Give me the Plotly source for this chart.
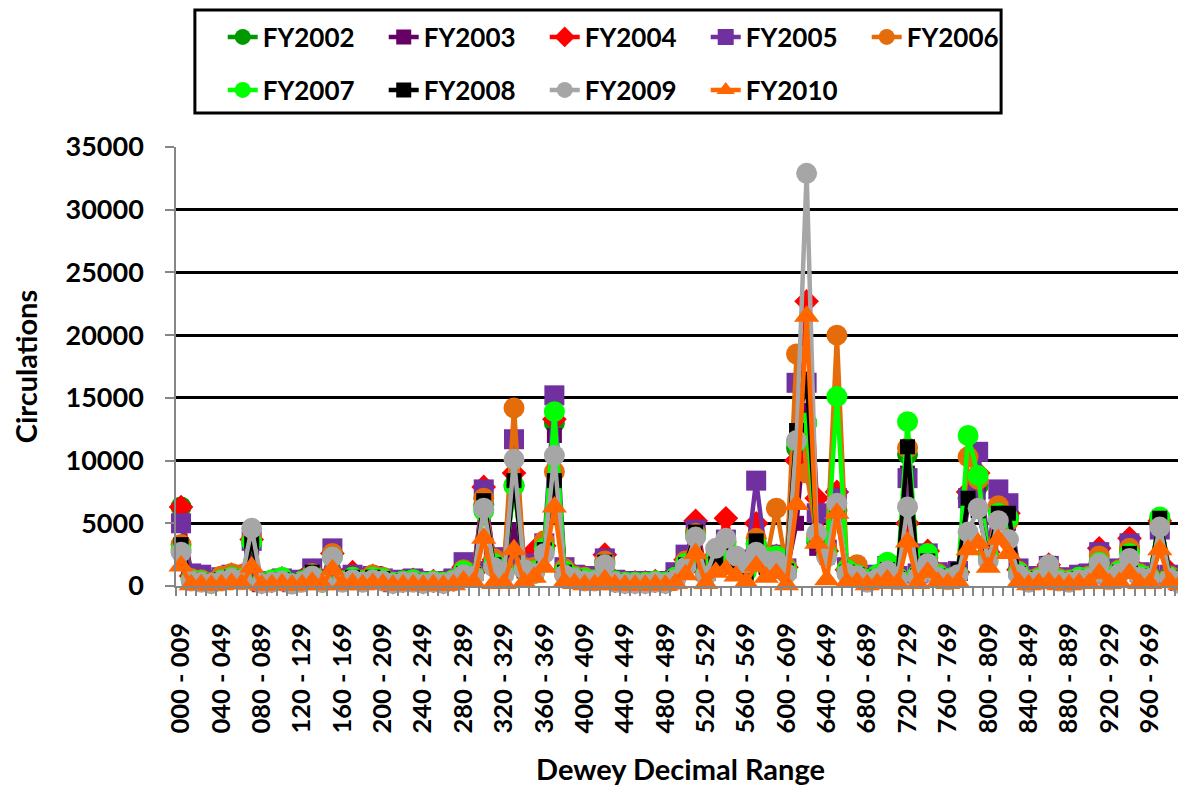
import plotly.graph_objects as go

categories = [
    "000 - 009", "010 - 019", "020 - 029", "030 - 039", "040 - 049", "050 - 059", "060 - 069", "070 - 079", "080 - 089", "090 - 099",
    "100 - 109", "110 - 119", "120 - 129", "130 - 139", "140 - 149", "150 - 159", "160 - 169", "170 - 179", "180 - 189", "190 - 199",
    "200 - 209", "210 - 219", "220 - 229", "230 - 239", "240 - 249", "250 - 259", "260 - 269", "270 - 279", "280 - 289", "290 - 299",
    "300 - 309", "310 - 319", "320 - 329", "330 - 339", "340 - 349", "350 - 359", "360 - 369", "370 - 379", "380 - 389", "390 - 399",
    "400 - 409", "410 - 419", "420 - 429", "430 - 439", "440 - 449", "450 - 459", "460 - 469", "470 - 479", "480 - 489", "490 - 499",
    "500 - 509", "510 - 519", "520 - 529", "530 - 539", "540 - 549", "550 - 559", "560 - 569", "570 - 579", "580 - 589", "590 - 599",
    "600 - 609", "610 - 619", "620 - 629", "630 - 639", "640 - 649", "650 - 659", "660 - 669", "670 - 679", "680 - 689", "690 - 699",
    "700 - 709", "710 - 719", "720 - 729", "730 - 739", "740 - 749", "750 - 759", "760 - 769", "770 - 779", "780 - 789", "790 - 799",
    "800 - 809", "810 - 819", "820 - 829", "830 - 839", "840 - 849", "850 - 859", "860 - 869", "870 - 879", "880 - 889", "890 - 899",
    "900 - 909", "910 - 919", "920 - 929", "930 - 939", "940 - 949", "950 - 959", "960 - 969", "970 - 979", "980 - 989", "990 - 999",
]

fy2002 = [6300, 900, 700, 300, 600, 800, 700, 3500, 300, 400,
          600, 300, 500, 1100, 400, 2500, 400, 900, 500, 800,
          600, 300, 400, 500, 300, 400, 300, 500, 1400, 1000,
          6500, 2000, 1200, 8000, 1500, 1000, 3000, 13000, 1300, 700,
          600, 500, 1900, 400, 300, 300, 300, 400, 300, 700,
          2000, 4300, 1000, 2200, 3500, 1800, 1200, 3400, 1600, 2200,
          1200, 11000, 13000, 3500, 2500, 6000, 1200, 1000, 400, 700,
          1400, 600, 10500, 800, 2200, 900, 600, 1000, 7000, 8000,
          2500, 6000, 5500, 1200, 400, 600, 1500, 500, 400, 700,
          800, 2000, 700, 1200, 2900, 900, 700, 5400, 800, 300]
fy2003 = [3000, 700, 600, 300, 500, 700, 600, 3000, 300, 400,
          500, 200, 400, 1000, 400, 2400, 400, 800, 400, 700,
          600, 300, 400, 500, 300, 400, 300, 500, 1300, 900,
          7000, 1800, 1100, 4500, 1400, 900, 2800, 12000, 1200, 700,
          600, 500, 1800, 400, 300, 300, 300, 400, 300, 700,
          1900, 4000, 900, 2100, 3300, 1700, 1100, 3200, 1500, 2000,
          1100, 5000, 14000, 3000, 2300, 5500, 1100, 900, 400, 700,
          1300, 600, 9000, 700, 2000, 800, 600, 900, 6500, 7500,
          2300, 5500, 5000, 1100, 400, 600, 1400, 500, 400, 700,
          700, 1900, 600, 1100, 2700, 800, 700, 5000, 700, 300]
fy2004 = [6300, 800, 700, 300, 600, 900, 800, 3700, 300, 400,
          600, 300, 500, 1200, 400, 2600, 500, 1100, 500, 800,
          600, 300, 400, 500, 300, 400, 300, 500, 1500, 1100,
          7900, 2100, 1300, 9000, 1600, 2800, 3200, 13300, 1300, 800,
          700, 600, 2500, 400, 300, 300, 300, 400, 300, 700,
          2100, 5200, 1100, 2400, 5400, 2000, 1300, 5000, 1800, 2400,
          1500, 10000, 22700, 7000, 2800, 7500, 1300, 1100, 500, 800,
          1500, 700, 5000, 900, 2800, 1000, 700, 1100, 7500, 9000,
          2700, 6300, 5800, 1300, 500, 700, 1700, 600, 500, 800,
          900, 3000, 800, 1300, 3800, 1000, 800, 5200, 1100, 400]
fy2005 = [5000, 1000, 900, 400, 700, 900, 800, 3600, 300, 400,
          600, 300, 500, 1400, 500, 3000, 500, 900, 500, 800,
          600, 300, 500, 600, 400, 400, 400, 600, 1900, 1200,
          7700, 2300, 1500, 11700, 1800, 1800, 3400, 15200, 1500, 900,
          800, 600, 2200, 500, 300, 400, 300, 400, 400, 1100,
          2500, 4500, 1200, 2500, 3700, 2100, 1600, 8400, 2000, 2500,
          1400, 16200, 16200, 5800, 2900, 7000, 1500, 1200, 600, 900,
          1600, 800, 8600, 1000, 2600, 1100, 800, 1200, 7000, 10700,
          3000, 7700, 6600, 1400, 600, 800, 1600, 700, 600, 900,
          1000, 2700, 900, 1400, 3400, 1100, 900, 4500, 900, 400]
fy2006 = [3300, 600, 500, 300, 800, 1000, 900, 3700, 300, 400,
          500, 200, 400, 1000, 400, 2600, 400, 700, 500, 900,
          700, 300, 400, 500, 300, 400, 300, 500, 1300, 1000,
          7000, 2200, 1400, 14200, 1500, 1500, 3600, 9100, 1400, 800,
          700, 500, 2000, 400, 300, 300, 300, 400, 300, 700,
          2000, 4200, 1000, 2400, 3600, 1900, 1300, 3800, 2000, 6200,
          1500, 18500, 9000, 4000, 3000, 20000, 1400, 1700, 500, 800,
          1500, 700, 11000, 900, 2300, 1000, 600, 1000, 10300, 8500,
          2600, 6400, 5200, 1200, 500, 700, 1500, 600, 500, 700,
          800, 2400, 800, 1300, 3000, 1000, 800, 5000, 800, 300]
fy2007 = [2900, 500, 400, 200, 500, 700, 600, 3500, 300, 500,
          700, 200, 400, 900, 300, 2300, 400, 700, 400, 700,
          600, 300, 400, 500, 300, 400, 300, 500, 1200, 900,
          6000, 1800, 1100, 8000, 1300, 1200, 3000, 13900, 1200, 700,
          600, 500, 1700, 400, 300, 300, 300, 400, 300, 700,
          1800, 4000, 900, 2200, 3300, 1800, 1100, 3300, 2300, 2400,
          1300, 11500, 13000, 3800, 2500, 15100, 1300, 900, 500, 900,
          1900, 700, 13100, 900, 2600, 900, 600, 1000, 12000, 8800,
          2400, 5800, 5400, 1100, 400, 600, 1400, 500, 400, 700,
          700, 1900, 700, 1200, 2600, 900, 700, 5500, 700, 300]
fy2008 = [3300, 500, 400, 200, 500, 700, 600, 3500, 300, 400,
          500, 200, 400, 1100, 300, 2300, 400, 700, 400, 700,
          600, 300, 400, 400, 300, 300, 300, 400, 1000, 900,
          6800, 1700, 1000, 8400, 1200, 1100, 2900, 8400, 1100, 700,
          500, 400, 1900, 400, 300, 300, 300, 300, 300, 600,
          1700, 4300, 900, 2000, 3500, 1700, 1000, 3600, 1500, 1800,
          1200, 12400, 16500, 3600, 2300, 6000, 1100, 900, 400, 700,
          1300, 600, 11100, 800, 2000, 800, 500, 1300, 7000, 6000,
          2400, 5800, 5800, 1000, 400, 600, 1800, 500, 400, 600,
          700, 1800, 600, 1100, 2600, 800, 600, 5400, 700, 300]
fy2009 = [2700, 400, 300, 200, 400, 600, 500, 4600, 200, 300,
          400, 150, 300, 800, 300, 2300, 300, 500, 300, 500,
          400, 200, 300, 300, 200, 300, 200, 400, 900, 800,
          6200, 1500, 900, 10100, 1300, 1000, 2600, 10400, 900, 600,
          400, 400, 1700, 300, 200, 200, 200, 300, 200, 500,
          1500, 3900, 800, 3000, 3800, 2400, 1800, 2700, 2000, 2000,
          1000, 11600, 32900, 4200, 2300, 6600, 1000, 800, 300, 600,
          1200, 500, 6300, 700, 1800, 700, 500, 900, 4300, 6200,
          2000, 5200, 3700, 900, 300, 500, 1700, 400, 300, 500,
          600, 1800, 500, 1000, 2200, 700, 600, 4700, 600, 200]
fy2010 = [1600, 100, 100, 50, 100, 200, 150, 1500, 50, 100,
          150, 50, 100, 300, 100, 1300, 100, 200, 100, 200,
          150, 50, 100, 100, 50, 100, 50, 100, 400, 300,
          3800, 200, 200, 2900, 300, 700, 1500, 6300, 300, 200,
          100, 100, 500, 100, 50, 50, 50, 100, 50, 200,
          900, 2600, 200, 1100, 1300, 800, 300, 1600, 700, 1000,
          100, 6500, 21500, 3400, 500, 5800, 300, 300, 100, 200,
          500, 200, 3500, 200, 1100, 300, 200, 300, 2900, 3400,
          1500, 3700, 2600, 300, 100, 200, 300, 100, 100, 200,
          200, 1000, 200, 300, 1000, 200, 200, 2900, 300, 100]

series_names = ["FY2002", "FY2003", "FY2004", "FY2005", "FY2006",
                "FY2007", "FY2008", "FY2009", "FY2010"]
series_values = [fy2002, fy2003, fy2004, fy2005, fy2006,
                 fy2007, fy2008, fy2009, fy2010]
colors = ["#009A00", "#660066", "#FF0000", "#7030A0", "#E46C0A",
          "#00FF00", "#000000", "#A6A6A6", "#FF6600"]
symbols = ["circle", "square", "diamond", "square", "circle",
           "circle", "square", "circle", "triangle-up"]
sizes = [21, 15, 19, 20, 21, 21, 15, 21, 22]

y_ticks = [0, 5000, 10000, 15000, 20000, 25000, 30000, 35000]
y_tick_text = ["0", "5000", "10000", "15000", "20000", "25000", "30000", "35000"]
label_step = 4

FONT = "Lato"
x_pos = list(range(len(categories)))

fig = go.Figure()
for k, (name, vals) in enumerate(zip(series_names, series_values)):
    fig.add_trace(go.Scatter(
        x=x_pos, y=vals, name=name, mode="lines+markers",
        line=dict(color=colors[k], width=4.5),
        marker=dict(symbol=symbols[k], size=sizes[k], color=colors[k]),
        cliponaxis=False,
        legend="legend" if k < 5 else "legend2",
    ))

# The page body has an 8px margin; work in page pixel coordinates.
OFF = 8
W, H = 1186 - OFF, 796 - OFF
L, T = 170 - OFF, 147 - OFF
plot_right, plot_bottom = 1185 - OFF, 586 - OFF
R, B = W - plot_right, H - plot_bottom
pw, ph = plot_right - L, plot_bottom - T

def px(xp):
    return (xp - OFF - L) / pw

def py(yp):
    return (plot_bottom - (yp - OFF)) / ph

legend_font = dict(family=FONT, size=26, color="black", weight="bold")

fig.update_layout(
    width=W, height=H,
    margin=dict(l=L, r=R, t=T, b=B),
    paper_bgcolor="white", plot_bgcolor="white",
    font=dict(family=FONT, color="black", weight="bold"),
    showlegend=True,
    legend=dict(orientation="h", x=px(217), xanchor="left", y=py(37), yanchor="middle",
                font=legend_font, entrywidth=116, entrywidthmode="pixels",
                bgcolor="rgba(0,0,0,0)", itemsizing="trace"),
    legend2=dict(orientation="h", x=px(217), xanchor="left", y=py(90), yanchor="middle",
                 font=legend_font, entrywidth=116, entrywidthmode="pixels",
                 bgcolor="rgba(0,0,0,0)", itemsizing="trace"),
    shapes=[dict(type="rect", xref="paper", yref="paper",
                 x0=px(189), x1=px(1000), y0=py(113), y1=py(10),
                 line=dict(color="black", width=3), fillcolor="rgba(0,0,0,0)")],
    xaxis=dict(
        range=[-0.5, len(categories) - 0.5],
        tickmode="array", tickvals=x_pos[::label_step], ticktext=categories[::label_step],
        tickangle=-90, ticks="", showgrid=False, zeroline=False,
        tickfont=dict(family=FONT, size=25.5, color="black", weight="bold"),
        ticklabelstandoff=25,
        showline=True, linecolor="#868686", linewidth=1.5,
        minor=dict(tick0=-0.5, dtick=1, ticks="outside", ticklen=8,
                   tickcolor="#868686", tickwidth=1.5, showgrid=False),
        title=dict(text="Dewey Decimal Range", standoff=27,
                   font=dict(family=FONT, size=29, color="black", weight="bold")),
    ),
    yaxis=dict(
        range=[0, 35000], tickmode="array", tickvals=y_ticks, ticktext=y_tick_text,
        showgrid=True, gridcolor="black", gridwidth=3, zeroline=False,
        showline=True, linecolor="#868686", linewidth=1.5,
        ticks="outside", ticklen=9, tickcolor="#868686", tickwidth=1.5,
        tickfont=dict(family=FONT, size=27, color="black", weight="bold"),
        ticklabelstandoff=16,
        title=dict(text="Circulations", standoff=36,
                   font=dict(family=FONT, size=29, color="black", weight="bold")),
    ),
)

fig.write_html("out.html")
